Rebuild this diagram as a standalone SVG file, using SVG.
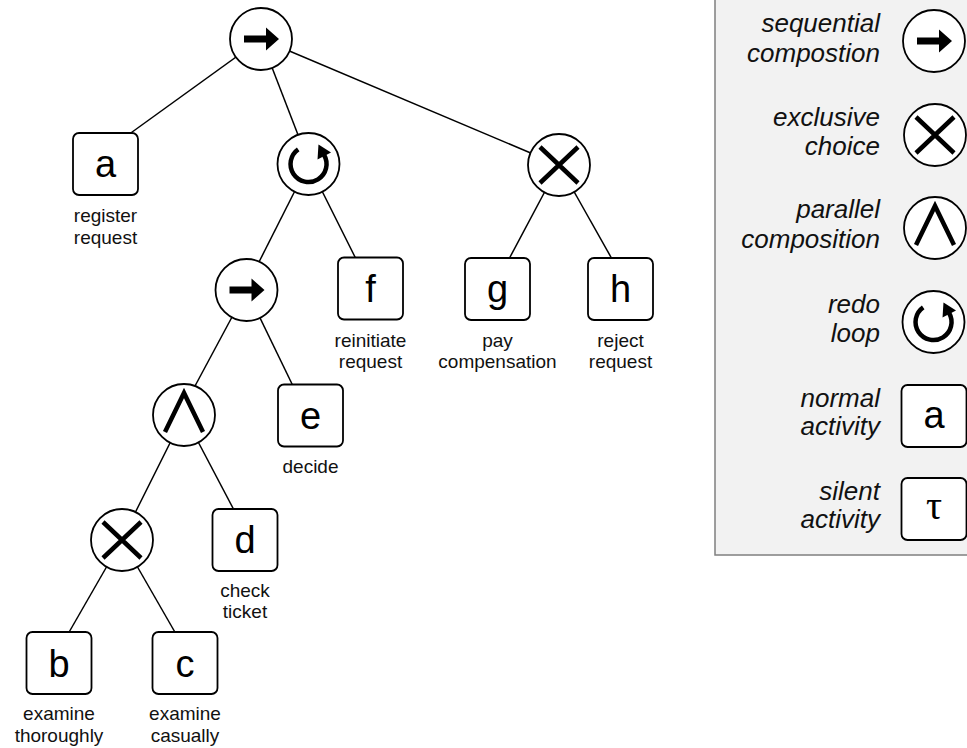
<svg xmlns="http://www.w3.org/2000/svg" xmlns:xlink="http://www.w3.org/1999/xlink" width="967" height="748" viewBox="0 0 967 748">
  <style>
    .op { fill: #ffffff; stroke: #000000; stroke-width: 1.8; }
    .act { fill: #ffffff; stroke: #000000; stroke-width: 1.8; }
    .edge { stroke: #000000; stroke-width: 1.5; fill: none; }
    .sym { stroke: #000000; stroke-width: 4.5; fill: none; }
    .letter { font-family: "Liberation Sans", Arial, sans-serif; font-size: 38px; text-anchor: middle; fill: #000000; }
    .tau { font-family: "Liberation Serif", "Times New Roman", serif; font-size: 40px; text-anchor: middle; fill: #000000; }
    .lbl { font-family: "Liberation Sans", Arial, sans-serif; font-size: 19px; text-anchor: middle; fill: #111111; }
    .leg { font-family: "Liberation Sans", Arial, sans-serif; font-size: 26px; font-style: italic; text-anchor: end; fill: #111111; }
    .legbox { fill: #f2f2f2; stroke: #7f7f7f; stroke-width: 1.5; }
  </style>
  <defs>
    <!-- operator glyphs, drawn around the origin -->
    <g id="seq">
      <circle class="op" r="31"/>
      <path d="M-17,-3.5 H5 V-11.5 L18,0 L5,11.5 V3.5 H-17 Z" fill="#000000"/>
    </g>
    <g id="xor">
      <circle class="op" r="31"/>
      <path class="sym" d="M-19,-18 L19,18 M19,-18 L-19,18"/>
    </g>
    <g id="and">
      <circle class="op" r="31"/>
      <polyline class="sym" points="-19,17 0,-22 19,17"/>
    </g>
    <g id="loop">
      <circle class="op" r="31"/>
      <path class="sym" d="M-10.3,-14.7 A18,18 0 1 0 15.6,-9"/>
      <path d="M10,-19.5 L22.5,-11.5 L9,-4.5 Z" fill="#000000"/>
    </g>
    <rect id="box" class="act" x="-32.5" y="-31" width="65" height="62" rx="6"/>
  </defs>

  <!-- legend panel -->
  <g id="legend">
    <rect class="legbox" x="715" y="-10" width="300" height="565"/>
    <text class="leg" x="880" y="32">sequential</text>
    <text class="leg" x="880" y="62">compostion</text>
    <use xlink:href="#seq" x="934" y="41"/>
    <text class="leg" x="880" y="126">exclusive</text>
    <text class="leg" x="880" y="155">choice</text>
    <use xlink:href="#xor" x="935" y="135"/>
    <text class="leg" x="880" y="218">parallel</text>
    <text class="leg" x="880" y="248">composition</text>
    <use xlink:href="#and" x="935" y="228"/>
    <text class="leg" x="880" y="313">redo</text>
    <text class="leg" x="880" y="342">loop</text>
    <use xlink:href="#loop" x="933.5" y="322"/>
    <text class="leg" x="880" y="407">normal</text>
    <text class="leg" x="880" y="435">activity</text>
    <use xlink:href="#box" x="934" y="416"/>
    <text class="letter" x="934" y="428">a</text>
    <text class="leg" x="880" y="500">silent</text>
    <text class="leg" x="880" y="528">activity</text>
    <use xlink:href="#box" x="934" y="509"/>
    <text class="tau" x="934" y="519">τ</text>
  </g>

  <!-- tree edges -->
  <g id="connectors">
    <line class="edge" x1="261" y1="39" x2="128" y2="135"/>
    <line class="edge" x1="261" y1="39" x2="300" y2="140"/>
    <line class="edge" x1="261" y1="39" x2="559" y2="165"/>
    <line class="edge" x1="308.5" y1="164" x2="259" y2="262"/>
    <line class="edge" x1="308.5" y1="164" x2="356" y2="259"/>
    <line class="edge" x1="559" y1="165" x2="509" y2="259"/>
    <line class="edge" x1="559" y1="165" x2="612" y2="259"/>
    <line class="edge" x1="246.5" y1="290" x2="195" y2="386"/>
    <line class="edge" x1="246.5" y1="290" x2="293" y2="386"/>
    <line class="edge" x1="184" y1="415" x2="134" y2="515"/>
    <line class="edge" x1="184" y1="415" x2="234" y2="510"/>
    <line class="edge" x1="122" y1="540" x2="68" y2="634"/>
    <line class="edge" x1="122" y1="540" x2="176" y2="634"/>
  </g>

  <!-- operator nodes -->
  <g id="root-seq"><use xlink:href="#seq" x="261" y="39"/></g>
  <g id="loop-node"><use xlink:href="#loop" x="308.5" y="164"/></g>
  <g id="xor-pay"><use xlink:href="#xor" x="559" y="165"/></g>
  <g id="inner-seq"><use xlink:href="#seq" x="246.5" y="290"/></g>
  <g id="and-node"><use xlink:href="#and" x="184" y="415"/></g>
  <g id="xor-examine"><use xlink:href="#xor" x="122" y="540"/></g>

  <!-- activity nodes -->
  <g id="act-a">
    <use xlink:href="#box" x="105.5" y="164"/>
    <text class="letter" x="105.5" y="177">a</text>
    <text class="lbl" x="105.5" y="222">register</text>
    <text class="lbl" x="105.5" y="244">request</text>
  </g>
  <g id="act-f">
    <use xlink:href="#box" x="370.5" y="288.5"/>
    <text class="letter" x="370.5" y="302">f</text>
    <text class="lbl" x="370.5" y="347">reinitiate</text>
    <text class="lbl" x="370.5" y="368">request</text>
  </g>
  <g id="act-g">
    <use xlink:href="#box" x="497.5" y="289"/>
    <text class="letter" x="497.5" y="302">g</text>
    <text class="lbl" x="497.5" y="347">pay</text>
    <text class="lbl" x="497.5" y="368">compensation</text>
  </g>
  <g id="act-h">
    <use xlink:href="#box" x="620.5" y="289"/>
    <text class="letter" x="620.5" y="302">h</text>
    <text class="lbl" x="620.5" y="347">reject</text>
    <text class="lbl" x="620.5" y="368">request</text>
  </g>
  <g id="act-e">
    <use xlink:href="#box" x="310.5" y="415.5"/>
    <text class="letter" x="310.5" y="429">e</text>
    <text class="lbl" x="310.5" y="473">decide</text>
  </g>
  <g id="act-d">
    <use xlink:href="#box" x="245" y="540"/>
    <text class="letter" x="245" y="553">d</text>
    <text class="lbl" x="245" y="597">check</text>
    <text class="lbl" x="245" y="618">ticket</text>
  </g>
  <g id="act-b">
    <use xlink:href="#box" x="59" y="663"/>
    <text class="letter" x="59" y="677">b</text>
    <text class="lbl" x="59" y="720">examine</text>
    <text class="lbl" x="59" y="742">thoroughly</text>
  </g>
  <g id="act-c">
    <use xlink:href="#box" x="185" y="663"/>
    <text class="letter" x="185" y="677">c</text>
    <text class="lbl" x="185" y="720">examine</text>
    <text class="lbl" x="185" y="742">casually</text>
  </g>
</svg>
